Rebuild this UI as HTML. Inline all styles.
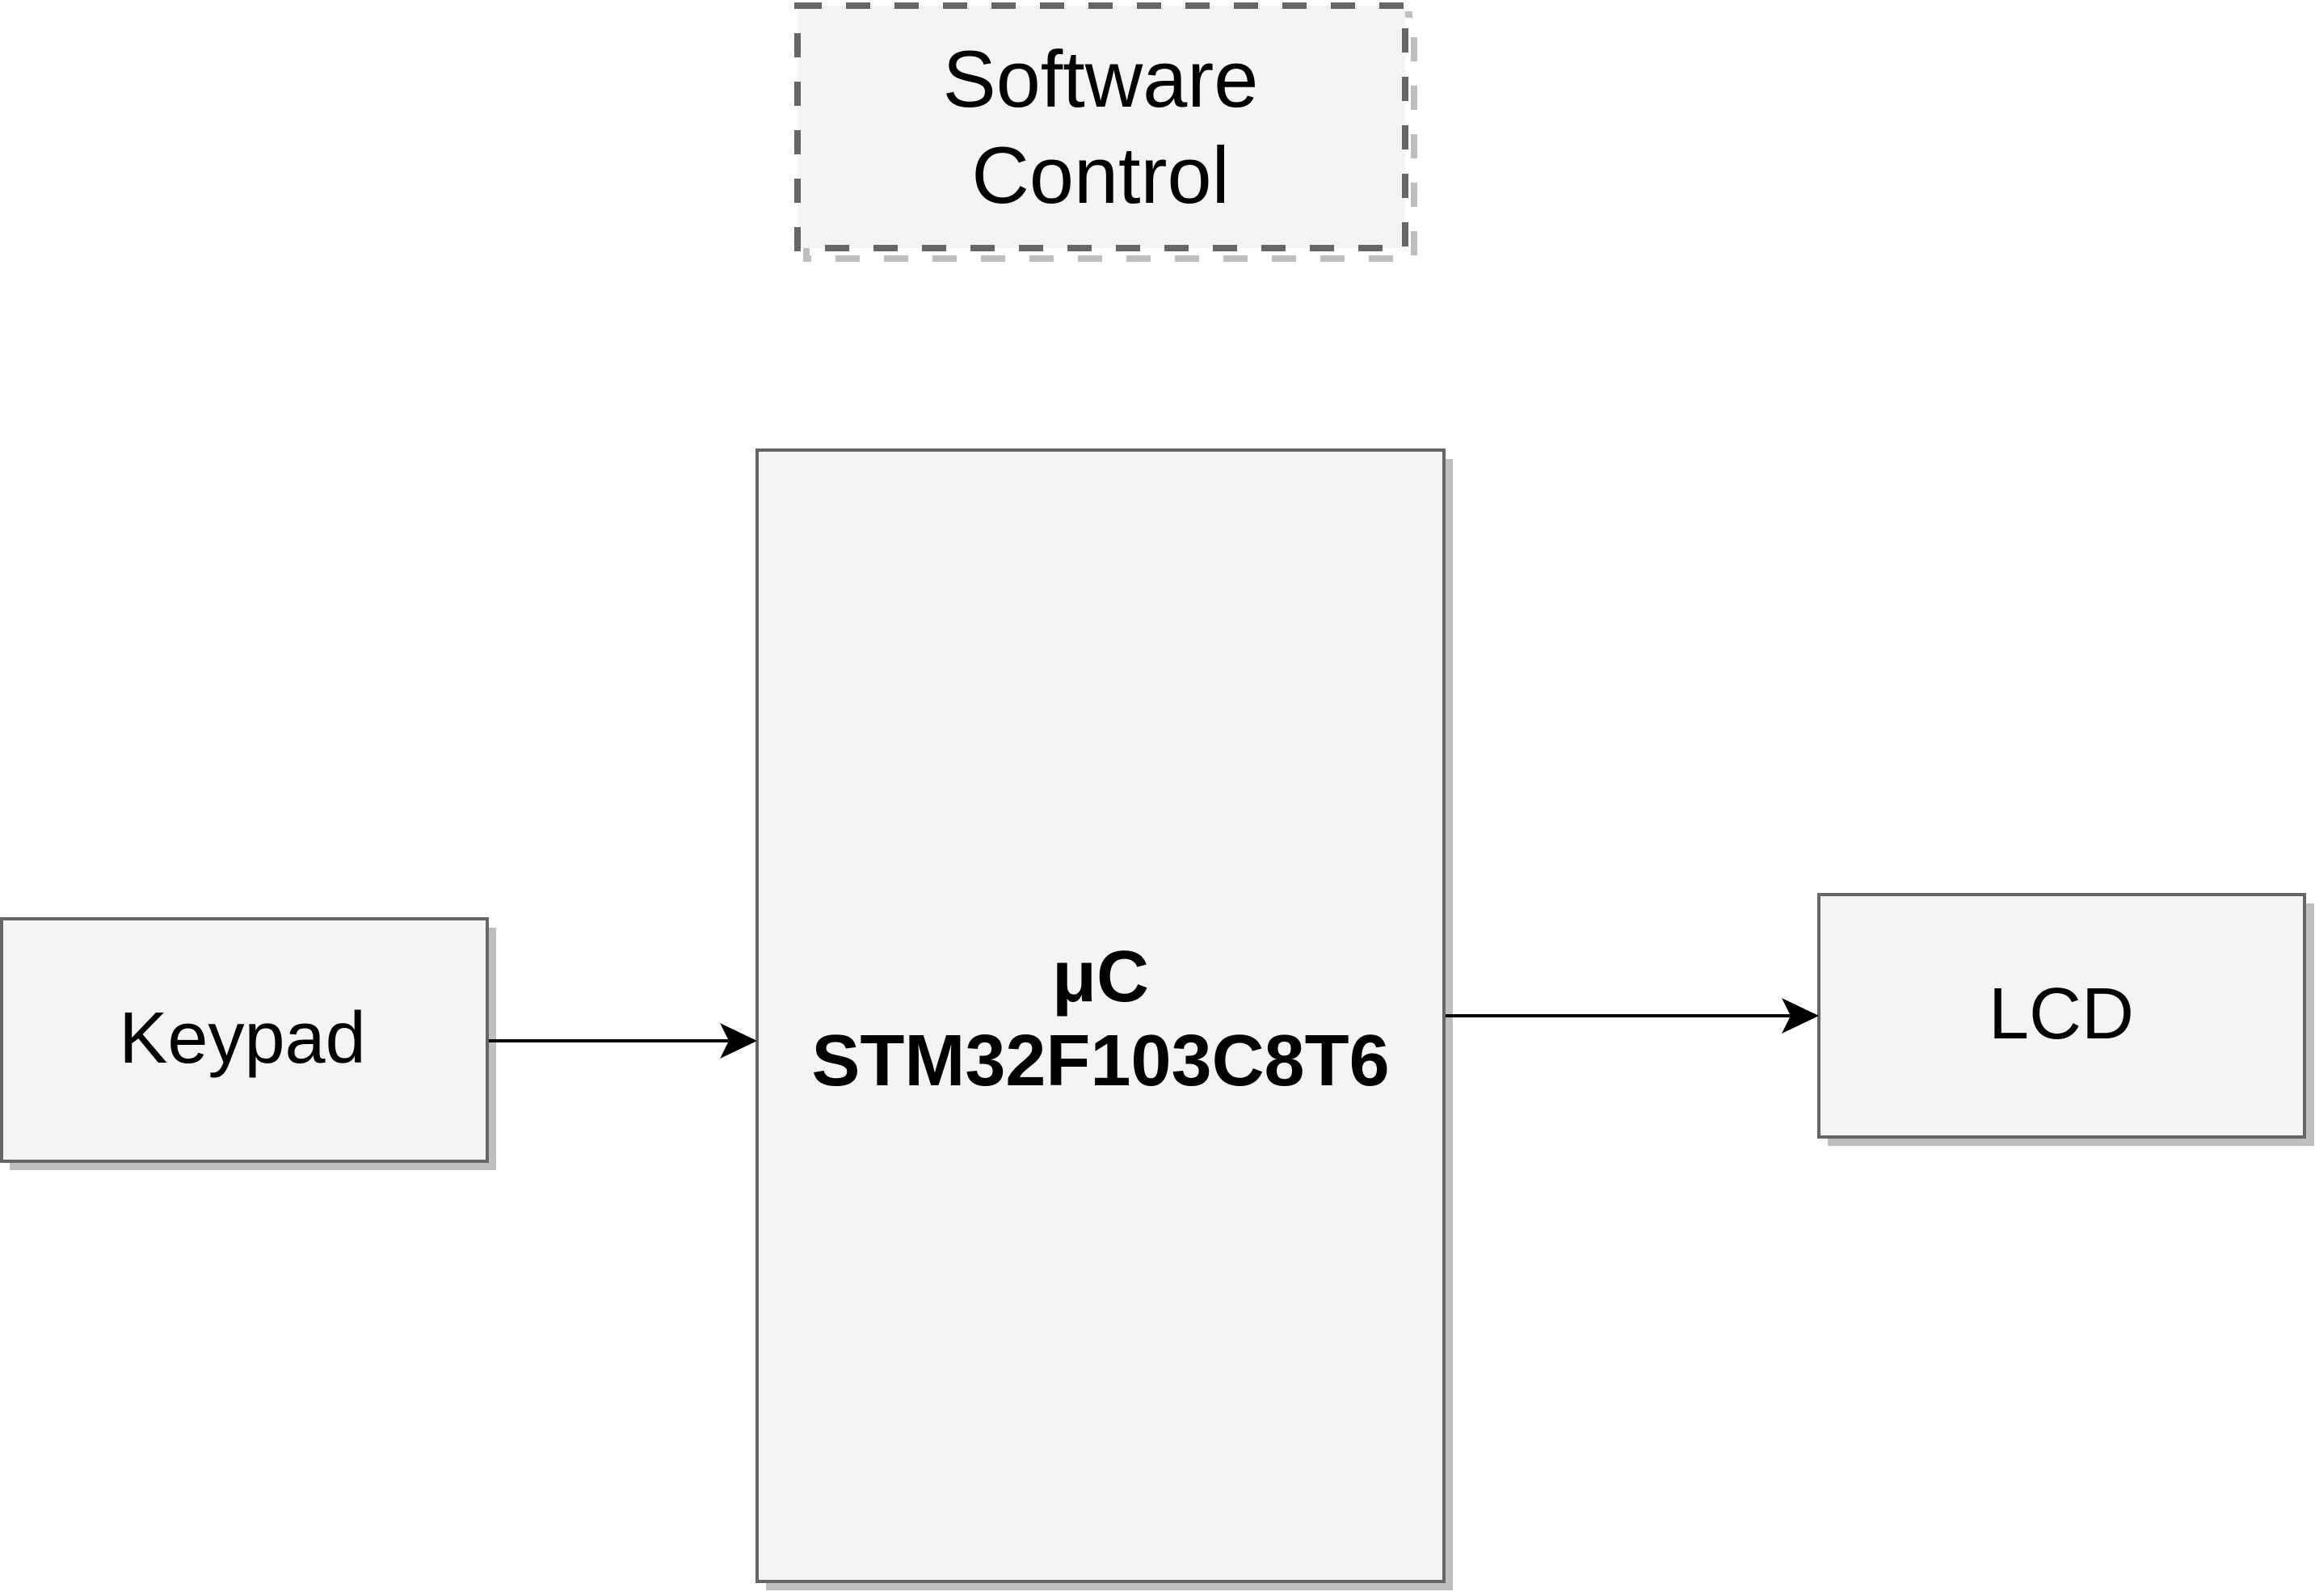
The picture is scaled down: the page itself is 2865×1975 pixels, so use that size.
<!DOCTYPE html>
<html><head><meta charset="utf-8"><style>
html,body{margin:0;padding:0;background:#fff;}
svg{display:block;}
text{font-family:"Liberation Sans",Arial,sans-serif;fill:#000;}
</style></head><body>
<svg width="2865" height="1975" viewBox="0 0 2865 1975" xmlns="http://www.w3.org/2000/svg">
<!-- Software Control -->
<rect x="998" y="18" width="752" height="302" fill="none" stroke="#bfbfbf" stroke-width="8" stroke-dasharray="30 30"/>
<rect x="987" y="7" width="752" height="300" fill="#f4f4f4" stroke="#666" stroke-width="8" stroke-dasharray="30 30"/>
<text x="1362" y="132" font-size="99" text-anchor="middle">Software</text>
<text x="1362" y="251" font-size="99" text-anchor="middle">Control</text>
<!-- Main -->
<rect x="948" y="568" width="850" height="1400" fill="#bfbfbf"/>
<rect x="937" y="557" width="850" height="1400" fill="#f4f4f4" stroke="#666" stroke-width="4"/>
<text x="1362" y="1239" font-size="90" font-weight="bold" text-anchor="middle">μC</text>
<text x="1362" y="1343" font-size="90" font-weight="bold" text-anchor="middle">STM32F103C8T6</text>
<!-- Keypad -->
<rect x="12" y="1148" width="602" height="300" fill="#bfbfbf"/>
<rect x="2" y="1137" width="601" height="300" fill="#f4f4f4" stroke="#666" stroke-width="4"/>
<text x="300" y="1315" font-size="90" text-anchor="middle">Keypad</text>
<!-- LCD -->
<rect x="2262" y="1118" width="602" height="300" fill="#bfbfbf"/>
<rect x="2251" y="1107" width="601" height="300" fill="#f4f4f4" stroke="#666" stroke-width="4"/>
<text x="2551" y="1285" font-size="90" text-anchor="middle">LCD</text>
<!-- Arrows -->
<line x1="605" y1="1288" x2="915" y2="1288" stroke="#000" stroke-width="4"/>
<path d="M937 1288 L891 1266 L902 1288 L891 1310 Z" fill="#000"/>
<line x1="1789" y1="1257" x2="2229" y2="1257" stroke="#000" stroke-width="4"/>
<path d="M2251 1257 L2205 1235 L2216 1257 L2205 1279 Z" fill="#000"/>
</svg>
</body></html>
